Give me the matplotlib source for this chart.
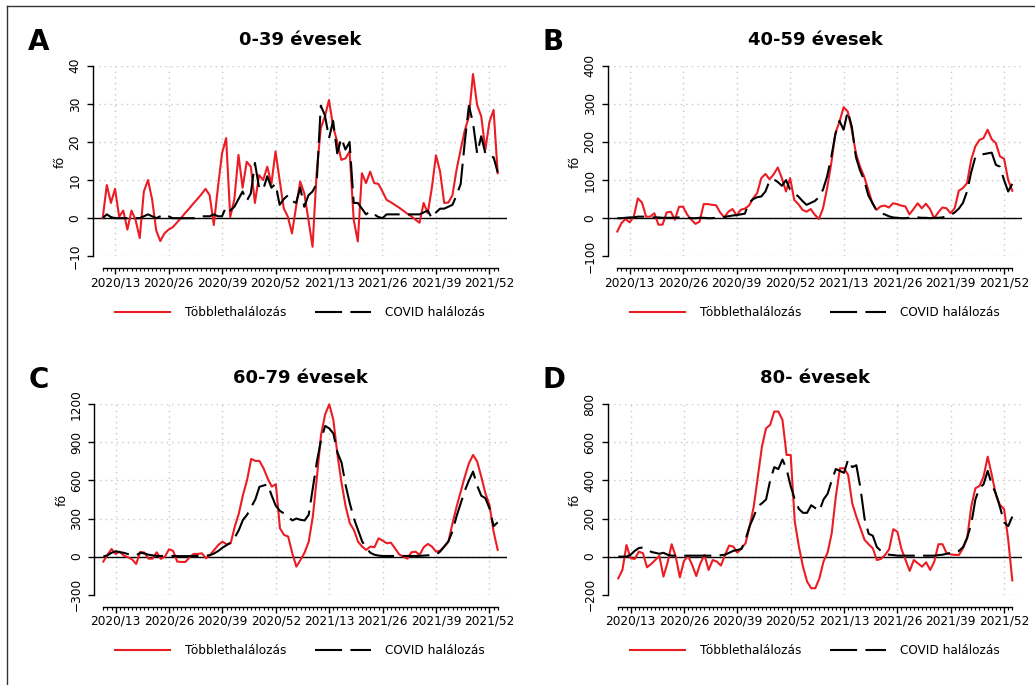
import numpy as np
import matplotlib.pyplot as plt
from matplotlib.lines import Line2D

W, H = 1035, 685

# weekly index: 2020/10 ... 2022/02
weeks = np.arange(97)
tick_pos = [3, 16, 29, 42, 55, 68, 81, 94]
tick_lab = ['2020/13', '2020/26', '2020/39', '2020/52',
            '2021/13', '2021/26', '2021/39', '2021/52']

excess_0_39 = [0, 8.7, 4, 7.7, 0.4, 2, -3, 2, -0.5, -5.2,
               7, 10, 5, -3.2, -6, -4, -3, -2.4, -1.2, 0,
               1.3, 2.5, 3.8, 5.0, 6.3, 7.7, 6, -1.8, 8, 17,
               21, 0.3, 5, 16.6, 8, 14.8, 13.5, 4, 11.3, 10,
               13.5, 9, 17.5, 10, 2.6, 0.4, -4, 3, 9.6, 6.5,
               -0.4, -7.5, 12, 23.6, 26.7, 31, 24, 20, 15.3, 15.7,
               17.5, -0.4, -6.1, 11.8, 9.2, 12.2, 9.2, 9, 7, 4.8,
               4.2, 3.5, 2.8, 2, 1.2, 0.5, -0.4, -1.2, 4, 1.3,
               8, 16.5, 12.2, 4, 4.1, 6, 12.7, 18, 23, 26.7,
               37.8, 29.7, 26.7, 18, 25.3, 28.4, 11.8]
covid_0_39 = [0, 1, 0.3, 0, 0, 0, 0, 0, 0, 0,
              0.5, 1, 0.5, 0, 0.5, 1, 0.5, 0, 0, 0,
              0, 0, 0, 0, 0.5, 0.5, 0.5, 1, 0.5, 0.5,
              3, 2, 3, 5, 7, 4.5, 6.5, 14.5, 8, 7.5,
              11, 8, 9, 3.5, 5, 6, 4.5, 4, 8, 3,
              6, 7, 9, 29.5, 27, 21, 25.5, 17, 21, 18,
              20, 4, 4, 2.5, 1, 1.8, 1, 0.3, 0, 1,
              1, 1, 1, 1, 1, 1, 1, 1, 1.5, 2,
              0, 1.5, 2.5, 2.5, 3, 3.5, 6, 9, 20, 29.5,
              25, 17, 21.5, 17, 16, 16, 12]

excess_40_59 = [-35, -13, -2, -11, 4, 52, 41, 4, 4, 13,
                -17, -17, 15, 17, -4, 30, 30, 9, -4, -15,
                -9, 37, 37, 35, 34, 15, 2, 17, 24, 7,
                22, 25, 33, 52, 66, 105, 116, 102, 115, 133,
                105, 70, 105, 48, 37, 22, 17, 24, 9, -2,
                26, 79, 144, 223, 253, 291, 280, 232, 170, 135,
                109, 74, 39, 22, 31, 33, 28, 39, 37, 33,
                31, 10, 24, 39, 26, 38, 24, 0, 15, 28,
                26, 13, 26, 72, 79, 92, 153, 188, 205, 210,
                232, 207, 197, 162, 156, 100, 72]
covid_40_59 = [0, 0, 1, 2, 2, 4, 4, 4, 2, 2,
               2, 1, 1, 1, 1, 2, 2, 1, 0, 0,
               1, 1, 0, 0, 1, 2, 3, 5, 7, 8,
               10, 12, 40, 50, 55, 57, 70, 98, 102, 95,
               85, 100, 75, 65, 57, 45, 35, 40, 45, 55,
               75, 110, 160, 220, 255, 232, 280, 240, 160, 125,
               100, 60, 40, 20, 12, 10, 5, 2, 1, 0,
               0, 1, 1, 2, 1, 1, 0, 1, 1, 2,
               5, 8, 15, 25, 40, 70, 120, 160, 165, 168,
               170, 172, 140, 135, 100, 70, 90]

excess_60_79 = [-39, 13, 60, 21, 39, 8, -5, -21, -58, 37,
                32, -16, -16, 34, -18, 0, 58, 45, -39, -42,
                -42, -5, 21, 21, 26, -13, 13, 53, 92, 118,
                97, 105, 236, 341, 486, 604, 770, 754, 754, 696,
                617, 552, 570, 223, 171, 158, 26, -79, -26, 32,
                118, 315, 630, 959, 1120, 1200, 1077, 801, 578, 394,
                263, 210, 118, 79, 53, 79, 74, 144, 126, 105,
                110, 66, 18, 0, -16, 34, 39, 13, 74, 100,
                79, 39, 47, 79, 118, 263, 394, 512, 630, 735,
                801, 749, 630, 499, 407, 197, 53]
covid_60_79 = [0, 10, 30, 42, 35, 30, 20, 15, 10, 30,
               25, 15, 10, 5, 5, 5, 5, 5, 4, 4,
               4, 4, 5, 5, 5, 8, 12, 25, 45, 70,
               90, 110, 150, 210, 290, 330, 390, 450, 550, 560,
               570, 480, 400, 360, 340, 315, 285, 300, 290, 285,
               330, 540, 750, 920, 1030, 1010, 970, 820, 740, 560,
               420, 300, 210, 120, 70, 30, 15, 8, 5, 5,
               5, 5, 5, 5, 5, 5, 5, 6, 8, 10,
               12, 15, 40, 80, 120, 200, 320, 420, 520, 600,
               670, 560, 480, 460, 380, 240, 270]

excess_80 = [-114, -70, 61, -9, -12, 26, 18, -56, -39, -18,
             4, -105, -32, 65, 0, -109, -23, 4, -44, -102,
             -35, 9, -70, -18, -26, -47, 9, 58, 53, 21,
             44, 70, 158, 263, 420, 578, 674, 692, 762, 762,
             718, 534, 534, 184, 53, -53, -131, -166, -166, -114,
             -26, 21, 123, 315, 464, 464, 429, 280, 210, 149,
             88, 65, 44, -18, -12, 9, 39, 144, 131, 39,
             -18, -75, -18, -35, -53, -30, -70, -26, 65, 65,
             18, 12, 9, 9, 44, 96, 263, 359, 371, 420,
             525, 429, 324, 271, 250, 90, -125]
covid_80 = [0, 0, 0, 10, 30, 45, 48, 40, 25, 20,
            15, 20, 10, 5, 5, 5, 5, 5, 5, 5,
            5, 5, 5, 5, 5, 8, 10, 20, 30, 35,
            40, 90, 160, 210, 265, 280, 300, 400, 470, 460,
            510, 460, 370, 300, 250, 230, 230, 270, 255, 240,
            300, 330, 400, 460, 450, 440, 510, 470, 480, 360,
            200, 120, 110, 50, 30, 15, 10, 8, 5, 5,
            5, 5, 5, 5, 5, 5, 5, 5, 8, 10,
            15, 20, 20, 30, 50, 100, 170, 300, 360, 380,
            450, 380, 330, 260, 180, 160, 210]

letters = ['A', 'B', 'C', 'D']
titles = ['0-39 évesek', '40-59 évesek', '60-79 évesek', '80- évesek']
excess = [excess_0_39, excess_40_59, excess_60_79, excess_80]
covid = [covid_0_39, covid_40_59, covid_60_79, covid_80]
yticks = [np.arange(-10, 41, 10), np.arange(-100, 401, 100),
          np.arange(-300, 1201, 300), np.arange(-200, 801, 200)]

# pixel layout of each panel: left/right of plot region, first/last week,
# top/bottom tick, x axis line, title centre, row offset
layout = [
    dict(xl=92.7, xr=507, x0=102.7, x1=497.7, yt=65.7, yb=256.3, xa=268.3, cx=300, dy=0),
    dict(xl=607.7, xr=1021.7, x0=617.3, x1=1012.3, yt=65.7, yb=256.3, xa=268.3, cx=815, dy=0),
    dict(xl=94, xr=507.3, x0=103.3, x1=497.7, yt=404.3, yb=594.7, xa=606.5, cx=300, dy=338),
    dict(xl=607.7, xr=1021.7, x0=618.3, x1=1012.3, yt=404.3, yb=594.7, xa=606.5, cx=815, dy=338),
]

red = '#ec1c24'
fig = plt.figure(figsize=(W / 100, H / 100), dpi=100)

for k in range(4):
    g = layout[k]
    ax = fig.add_axes([g['xl'] / W, 1 - g['yb'] / H,
                       (g['xr'] - g['xl']) / W, (g['yb'] - g['yt']) / H])
    s = (g['x1'] - g['x0']) / 96
    ax.set_xlim((g['xl'] - g['x0']) / s, (g['xr'] - g['x0']) / s)
    yt = yticks[k]
    ax.set_ylim(yt[0], yt[-1])

    ax.grid(True, color='#c8c8c8', linestyle=(0, (1, 3)), linewidth=1.0)
    ax.axhline(0, color='black', linewidth=1.0, zorder=2)
    l1, = ax.plot(weeks, excess[k], color=red, linewidth=1.5, clip_on=False, zorder=3)
    l2, = ax.plot(weeks, covid[k], color='black', linewidth=1.5,
                  dashes=(13, 4), clip_on=False, zorder=4)

    for side in ['top', 'right']:
        ax.spines[side].set_visible(False)
    ax.spines['left'].set_bounds(yt[0], yt[-1])
    ax.spines['bottom'].set_bounds(0, 96)
    ax.spines['bottom'].set_position(('outward', (g['xa'] - g['yb']) * 0.72))
    for side in ['left', 'bottom']:
        ax.spines[side].set_linewidth(1.0)

    ax.set_xticks(tick_pos)
    ax.set_xticklabels(tick_lab)
    ax.set_xticks(weeks, minor=True)
    ax.set_yticks(yt)
    ax.tick_params(axis='x', which='major', length=4, width=1, labelsize=8.7, pad=2)
    ax.tick_params(axis='x', which='minor', length=2.5, width=0.8)
    ax.tick_params(axis='y', length=4, width=1, labelsize=8.7, pad=4, labelrotation=90)
    for lbl in ax.get_yticklabels():
        lbl.set_va('center')

    fig.text(g['cx'] / W, 1 - (40 + g['dy']) / H, titles[k], ha='center', va='center',
             fontsize=13, weight='bold')
    fig.text((g['xl'] - 65) / W, 1 - (42 + g['dy']) / H, letters[k], ha='left', va='center',
             fontsize=20, weight='bold')
    fig.text((g['xl'] - 32) / W, 1 - (162 + g['dy']) / H, 'fő', rotation=90,
             ha='center', va='center', fontsize=9)

    ax.legend([l1, l2], ['Többlethalálozás', 'COVID halálozás'], loc='center',
              bbox_to_anchor=(g['cx'] / W, 1 - (313 + g['dy']) / H),
              bbox_transform=fig.transFigure, ncol=2, frameon=False, fontsize=8.7,
              handlelength=4.6, handletextpad=1.2, columnspacing=2.4)

# frame lines on the left and top edge
fig.add_artist(Line2D([7 / W, 7 / W], [0, 1 - 6 / H], color='#333333', linewidth=1.0))
fig.add_artist(Line2D([7 / W, 1], [1 - 6 / H, 1 - 6 / H], color='#333333', linewidth=1.0))

fig.savefig('out.png', dpi=100)
